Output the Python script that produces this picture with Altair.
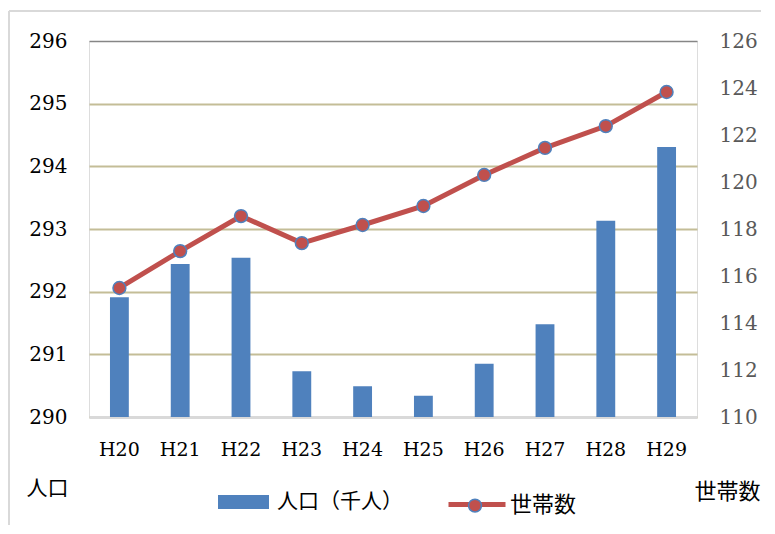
import altair as alt
import pandas as pd

years = ["H20", "H21", "H22", "H23", "H24", "H25", "H26", "H27", "H28", "H29"]
population = [291.91, 292.44, 292.54, 290.73, 290.49, 290.34, 290.85, 291.48, 293.13, 294.31]
households = [115.49, 117.06, 118.55, 117.40, 118.17, 118.98, 120.30, 121.45, 122.38, 123.83]

df = pd.DataFrame({"year": years, "pop": population, "hh": households,
                   "s1": ["人口（千人）"] * len(years), "s2": ["世帯数"] * len(years)})

SERIF = "DejaVu Serif"
JP = "Noto Sans CJK JP"
BLUE = "#4F81BD"
RED = "#C0504D"

x = alt.X("year:N", sort=years, title=None,
          scale=alt.Scale(paddingInner=0.69, paddingOuter=0.345),
          axis=alt.Axis(labelAngle=0, labelFont=SERIF, labelFontSize=19, labelColor="#000000",
                        ticks=False, labelPadding=23, domainColor="#D9D9D9", domainWidth=3))

bars = alt.Chart(df).mark_bar(color=BLUE, clip=True).encode(
    x=x,
    y=alt.Y("pop:Q", scale=alt.Scale(domain=[290, 296], nice=False, zero=False),
            axis=alt.Axis(values=[290, 291, 292, 293, 294, 295, 296], title="人口",
                          titleAngle=0, titleX=-63, titleY=447, titleAlign="left",
                          titleBaseline="middle", titleFont=JP, titleFontSize=21,
                          titleFontWeight="normal", titleColor="#000000",
                          labelFont=SERIF, labelFontSize=20, labelColor="#000000",
                          ticks=False, domain=False, labelPadding=22,
                          grid=True,
                          gridColor={"condition": {"test": "datum.value === 296", "value": "#868686"},
                                     "value": "#C4BD97"},
                          gridWidth={"condition": {"test": "datum.value === 296", "value": 1.5},
                                     "value": 2})),
    color=alt.Color("s1:N", scale=alt.Scale(range=[BLUE]),
                    legend=alt.Legend(title=None, orient="none", legendX=129, legendY=435.5,
                                      symbolType="M-1,-0.275H1V0.275H-1Z", symbolSize=2601,
                                      symbolStrokeWidth=0, labelFont=JP, labelFontSize=21,
                                      labelColor="#000000", labelOffset=8)),
)

y2 = alt.Y("hh:Q", scale=alt.Scale(domain=[110, 126], nice=False, zero=False),
           axis=alt.Axis(values=[110, 112, 114, 116, 118, 120, 122, 124, 126], title="世帯数",
                         orient="right", titleAngle=0, titleX=-3, titleY=450, titleAlign="left",
                         titleBaseline="middle", titleFont=JP, titleFontSize=22,
                         titleFontWeight="normal", titleColor="#000000",
                         labelFont=SERIF, labelFontSize=20, labelColor="#595959",
                         ticks=False, domain=False, labelPadding=22, grid=False))

line = alt.Chart(df).mark_line(strokeWidth=5).encode(
    x=alt.X("year:N", sort=years),
    y=y2,
    stroke=alt.Stroke("s2:N", scale=alt.Scale(range=[RED]),
                      legend=alt.Legend(title=None, orient="none", legendX=357, legendY=432.5,
                                        symbolType="stroke", symbolSize=3249, symbolStrokeWidth=5,
                                        labelFont=JP, labelFontSize=22, labelColor="#000000",
                                        labelOffset=2)),
)

points = alt.Chart(df).mark_point(filled=True, size=165, stroke=BLUE, strokeWidth=1.5, opacity=1).encode(
    x=alt.X("year:N", sort=years),
    y=y2,
    fill=alt.Fill("s2:N", scale=alt.Scale(range=[RED]),
                  legend=alt.Legend(title=None, orient="none", legendX=376, legendY=454.6,
                                    symbolType="circle", symbolSize=165, symbolStrokeColor=BLUE,
                                    symbolStrokeWidth=1.5, symbolOpacity=1,
                                    labelExpr="''", labelFontSize=20)),
)

frame = alt.Chart(df).mark_rule(color="#D9D9D9", strokeWidth=2).encode(
    x=alt.value(-80), y=alt.value(-30), y2=alt.value(484)
)
frame_top = alt.Chart(df).mark_rule(color="#D9D9D9", strokeWidth=2).encode(
    x=alt.value(-80), x2=alt.value(672), y=alt.value(-30)
)

right = alt.layer(line, points)

chart = alt.layer(frame, frame_top, bars, right).resolve_scale(y="independent", color="independent").properties(
    width=608, height=376,
    padding={"left": 0, "top": 2, "right": 0, "bottom": 0},
).configure_view(stroke="#868686", strokeWidth=1.5).configure(background="#FFFFFF")

chart.save("out.html", embed_options={"renderer": "svg", "actions": False})
